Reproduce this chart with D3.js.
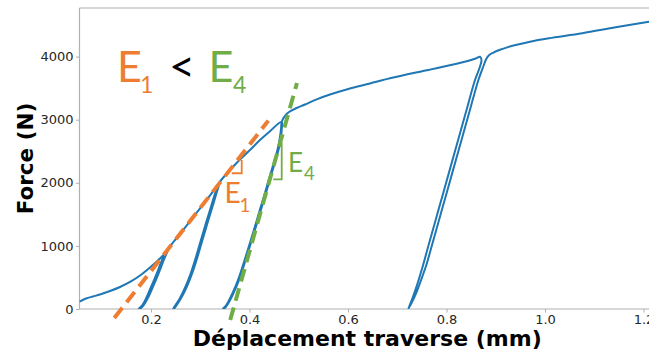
<!DOCTYPE html>
<html><head><meta charset="utf-8">
<script src="https://cdn.jsdelivr.net/npm/d3@7"></script>
<style>html,body{margin:0;padding:0;background:#fff;overflow:hidden}</style>
</head><body>
<svg id="chart" width="649" height="354"></svg>
<script>
// ---- data (displacement mm, force N) ----
const xTickValues = [0.2, 0.4, 0.6, 0.8, 1.0, 1.2];
const yTickValues = [0, 1000, 2000, 3000, 4000];
const xLabel = "Déplacement traverse (mm)";
const yLabel = "Force (N)";

const load1 = [[0.0548,116],[0.068,166],[0.0822,198],[0.0964,230],[0.1168,285],[0.1371,349],[0.1574,428],[0.1777,531],[0.198,658],[0.2183,800],[0.2305,903],[0.2365,971]];
const unload1 = [[0.2365,971],[0.2320,887],[0.2262,784],[0.2182,618],[0.2101,460],[0.2020,317],[0.1937,174],[0.1852,63],[0.1765,0]];
const reload1 = [[0.1750,0],[0.1826,63],[0.1903,174],[0.1982,317],[0.2063,460],[0.2144,618],[0.2228,784],[0.2292,887],[0.2365,971]];
const load2 = [[0.2365,971],[0.26,1200],[0.28,1400],[0.30,1600],[0.32,1800],[0.3385,1998]];
const unload2 = [[0.3385,1998],[0.3325,1823],[0.3248,1621],[0.3147,1363],[0.3045,1094],[0.2944,824],[0.2837,566],[0.2725,349],[0.2600,158],[0.2460,0]];
const reload2 = [[0.2448,0],[0.2578,158],[0.2697,349],[0.2807,566],[0.2913,824],[0.3014,1094],[0.3116,1363],[0.3218,1621],[0.3297,1823],[0.3385,1998]];
const load3 = [[0.3385,1998],[0.3503,2116],[0.3604,2203],[0.3807,2369],[0.4010,2520],[0.4213,2678],[0.4416,2818],[0.4654,2968]];
const unload3 = [[0.4654,2968],[0.4655,2850],[0.4638,2720],[0.4592,2530],[0.4531,2360],[0.4428,2090],[0.4327,1820],[0.4225,1555],[0.4124,1290],[0.4022,1030],[0.3921,775],[0.3819,530],[0.3742,370],[0.3677,255],[0.3612,150],[0.3542,55],[0.3478,0]];
const reload3 = [[0.3460,0],[0.3522,55],[0.3592,150],[0.3657,255],[0.3722,370],[0.3799,530],[0.3901,775],[0.4002,1030],[0.4104,1290],[0.4205,1555],[0.4307,1820],[0.4408,2090],[0.4510,2360],[0.4571,2530],[0.4617,2720],[0.4640,2850],[0.4654,2968]];
const load4 = [[0.4654,2968],[0.4721,3059],[0.4802,3122],[0.4958,3185],[0.5127,3241],[0.5364,3323],[0.5635,3399],[0.6006,3487],[0.6447,3574],[0.6853,3656],[0.7523,3772],[0.8207,3886],[0.8579,3965],[0.8680,3998]];
const unload4 = [[0.8680,3998],[0.8711,3946],[0.8670,3819],[0.8579,3629],[0.8388,3101],[0.8179,2520],[0.7913,1780],[0.7811,1498],[0.7637,1014],[0.7523,689],[0.7474,563],[0.7425,436],[0.7364,293],[0.7310,174],[0.7263,79],[0.7224,0]];
const reload4 = [[0.7224,0],[0.7279,79],[0.7340,174],[0.7405,293],[0.7474,436],[0.7531,563],[0.7588,689],[0.7706,1014],[0.7880,1498],[0.7982,1780],[0.8248,2520],[0.8457,3101],[0.8648,3629],[0.8751,3851],[0.8802,3954],[0.8863,4022],[0.8944,4060],[0.9086,4108],[0.9249,4150],[0.9405,4183],[0.9695,4236],[1.0081,4290],[1.0757,4369],[1.1436,4464],[1.2112,4553],[1.2254,4572]];

// stiffness lines (dashed)
const lineE1 = [[0.1255,-143],[0.4382,2985]];
const lineE4 = [[0.3608,-174],[0.4964,3582]];
// slope triangles
const triE1 = [[0.3639,2151],[0.3842,2151],[0.3842,2361]];
const triE4 = [[0.4483,2055],[0.4654,2055],[0.4654,2626],[0.4585,2626]];

// ---- layout ----
const W = 649, H = 354;
const L = 79.5, R = 655, T = 8, B = 309;
const blue = "#1f77b4", orange = "#ED7D31", green = "#70AD47";

const svg = d3.select("#chart");
const x = d3.scaleLinear().domain([0.0548, 1.2234]).range([L, R]);
const y = d3.scaleLinear().domain([0, 4770]).range([B, T]);

svg.append("defs").append("clipPath").attr("id","clip")
  .append("rect").attr("x",L).attr("y",T).attr("width",R-L).attr("height",B-T);

const segs = [load1, unload1, reload1, load2, unload2, reload2, load3, unload3, reload3, load4, unload4, reload4];
let trace = [];
segs.forEach(s => {
  s.forEach(p => {
    const last = trace[trace.length-1];
    if (last && Math.abs(last[0]-p[0])<1e-9 && Math.abs(last[1]-p[1])<1e-9) return;
    trace.push(p);
  });
});

const line = d3.line().x(d=>x(d[0])).y(d=>y(d[1])).curve(d3.curveCatmullRom.alpha(0.5));

// axes
const spine = "#b0b0b0", tickCol = "#262626";
const xAxis = d3.axisBottom(x).tickValues(xTickValues).tickFormat(d3.format(".1f")).tickSize(3.5).tickPadding(2);
const yAxis = d3.axisLeft(y).tickValues(yTickValues).tickFormat(d3.format("d")).tickSize(3.5).tickPadding(2.5);

const gx = svg.append("g").attr("transform",`translate(0,${B})`).call(xAxis);
const gy = svg.append("g").attr("transform",`translate(${L},0)`).call(yAxis);
[gx, gy].forEach(g => {
  g.select(".domain").remove();
  g.selectAll(".tick line").attr("stroke", spine).attr("stroke-width",1);
  g.selectAll(".tick text").attr("fill", tickCol).style("font-family","DejaVu Sans").style("font-size","13px");
});

// spines
svg.append("line").attr("x1",L).attr("x2",L).attr("y1",T).attr("y2",B).attr("stroke",spine).attr("stroke-width",1.2);
svg.append("line").attr("x1",L).attr("x2",R).attr("y1",B).attr("y2",B).attr("stroke",spine).attr("stroke-width",1.2);
svg.append("line").attr("x1",L).attr("x2",R).attr("y1",T).attr("y2",T).attr("stroke",spine).attr("stroke-width",1.2);

// main curve
svg.append("path").datum(trace).attr("clip-path","url(#clip)")
  .attr("d", line).attr("fill","none").attr("stroke",blue).attr("stroke-width",2)
  .attr("stroke-linejoin","round");

// dashed stiffness lines
const straight = d3.line().x(d=>x(d[0])).y(d=>y(d[1]));
svg.append("path").datum(lineE1).attr("d",straight).attr("fill","none")
  .attr("stroke",orange).attr("stroke-width",4).attr("stroke-dasharray","13,7");
svg.append("path").datum(lineE4).attr("d",straight).attr("fill","none")
  .attr("stroke",green).attr("stroke-width",4).attr("stroke-dasharray","13,7");

// slope triangles
svg.append("path").datum(triE1).attr("d",straight).attr("fill","none").attr("stroke",orange).attr("stroke-width",1.8);
svg.append("path").datum(triE4).attr("d",straight).attr("fill","none").attr("stroke",green).attr("stroke-width",1.8);

// axis labels
svg.append("text").attr("x",(L+R)/2).attr("y",346).attr("text-anchor","middle")
  .style("font-family","DejaVu Sans").style("font-weight","bold").style("font-size","22px")
  .attr("fill","#000").text(xLabel);
svg.append("text").attr("transform",`translate(33,${(T+B)/2}) rotate(-90)`).attr("text-anchor","middle")
  .style("font-family","DejaVu Sans").style("font-weight","bold").style("font-size","21.5px")
  .attr("fill","#000").text(yLabel);

// annotation texts
function txt(xp, yp, s, size, col){
  svg.append("text").attr("x",xp).attr("y",yp).text(s)
    .style("font-family","Lato").style("font-size",size+"px").attr("fill",col);
}
txt(117, 81.7, "E", 43, orange);
txt(140, 93.3, "1", 23, orange);
txt(169, 82, "<", 45, "#000");
txt(208.5, 81.7, "E", 43, green);
txt(233, 93.3, "4", 23, green);

txt(224.5, 202.7, "E", 28, orange);
txt(239.5, 211.7, "1", 18.5, orange);
txt(288, 172, "E", 26, green);
txt(304, 180, "4", 18.5, green);
</script>
</body></html>
